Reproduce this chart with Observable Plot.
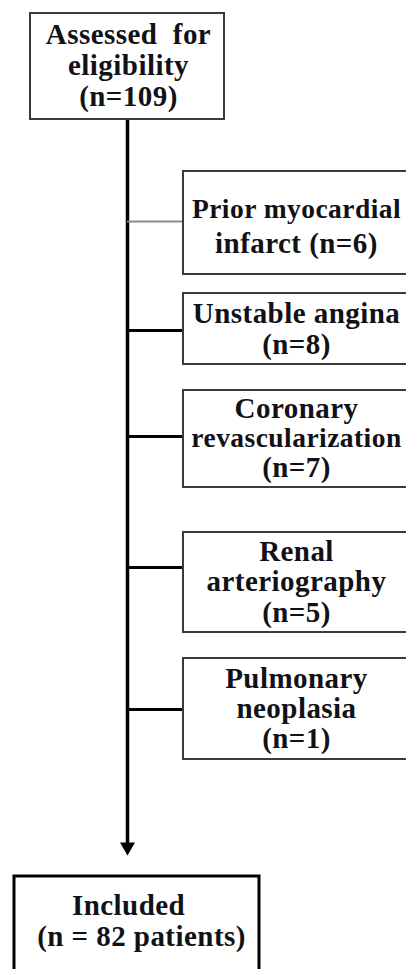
<!DOCTYPE html>
<html>
<head>
<meta charset="utf-8">
<script src="https://cdn.jsdelivr.net/npm/d3@7"></script>
<script src="https://cdn.jsdelivr.net/npm/@observablehq/plot@0.6"></script>
<style>
  html, body { margin: 0; padding: 0; background: #fff; overflow: hidden; }
</style>
</head>
<body>
<div id="chart"></div>
<script>
// ---- data ----
const assessedLabel = ["Assessed  for", "eligibility"];
const assessedCount = 109;
const exclusionReasons = [
  ["Prior myocardial", "infarct"],
  ["Unstable angina"],
  ["Coronary", "revascularization"],
  ["Renal", "arteriography"],
  ["Pulmonary", "neoplasia"]
];
const exclusionCounts = [6, 8, 7, 5, 1];
const countOnOwnLine = [false, true, true, true, true];
const includedLabel = "Included";
const includedCount = 82;

// ---- layout (pixels) ----
const W = 406, H = 969;
const spineX = 127;
const topBox = {x1: 30, x2: 224, y1: 13, y2: 119, cx: 128, base: 43, gap: 31};
const sideX1 = 183, sideX2 = 412, sideCx = 296;
const sideBoxes = [
  {y1: 171, y2: 274, link: 221, base: 217, gap: 35},
  {y1: 293, y2: 364, link: 330, base: 322, gap: 31},
  {y1: 390, y2: 487, link: 436, base: 417, gap: 29.5},
  {y1: 532, y2: 632, link: 567, base: 560, gap: 30.5},
  {y1: 658, y2: 759, link: 709, base: 687, gap: 30}
];
const bottomBox = {x1: 14, x2: 259, y1: 876, y2: 975, base: 914, gap: 31};
const arrowTip = 855;

// ---- build tables ----
const boxes = [
  {...topBox, stroke: "#3a3a3a", sw: 2},
  ...sideBoxes.map(b => ({x1: sideX1, x2: sideX2, y1: b.y1, y2: b.y2, stroke: "#3a3a3a", sw: 2})),
  {...bottomBox, stroke: "#000", sw: 3}
];

const lines = [];
[...assessedLabel, `(n=${assessedCount})`].forEach((t, i) =>
  lines.push({x: topBox.cx, y: topBox.base + i * topBox.gap, text: t, size: 29}));
exclusionReasons.forEach((reason, k) => {
  const b = sideBoxes[k];
  const ls = reason.slice();
  if (countOnOwnLine[k]) ls.push(`(n=${exclusionCounts[k]})`);
  else ls[ls.length - 1] += ` (n=${exclusionCounts[k]})`;
  ls.forEach((t, i) => lines.push({x: sideCx, y: b.base + i * b.gap, text: t, size: t.length > 15 ? 27.5 : 29}));
});
lines.push({x: 128, y: bottomBox.base, text: includedLabel, size: 29});
lines.push({x: 141, y: bottomBox.base + bottomBox.gap, text: `(n = ${includedCount} patients)`, size: 29});

const links = sideBoxes.map((b, k) => ({y: b.link, color: k === 0 ? "#8a8a8a" : "#000", w: k === 0 ? 2 : 3}));

// arrow head: equilateral triangle of width 15
const headW = 15;
const hy = headW / (2 * Math.sqrt(3));
const headR = Math.sqrt(hy * hy * Math.sqrt(3) * 3 / Math.PI);

const chart = Plot.plot({
  width: W,
  height: H,
  margin: 0,
  x: {domain: [0, W], range: [0, W], axis: null},
  y: {domain: [0, H], range: [0, H], axis: null},
  style: {fontFamily: "'Liberation Serif', 'Times New Roman', serif", background: "#fff", overflow: "hidden", letterSpacing: "0.45px"},
  marks: [
    Plot.ruleX([spineX], {y1: topBox.y2, y2: arrowTip - 8, stroke: "#000", strokeWidth: 3.5}),
    Plot.dot([{x: spineX, y: arrowTip - 2 * hy}], {x: "x", y: "y", symbol: "triangle", r: headR, rotate: 180, fill: "#000", stroke: "none"}),
    Plot.ruleY(links, {y: "y", x1: spineX, x2: sideX1, stroke: "color", strokeWidth: "w"}),
    Plot.rect(boxes, {x1: "x1", x2: "x2", y1: "y1", y2: "y2", fill: "#fff", stroke: "stroke", strokeWidth: "sw"}),
    Plot.text(lines, {x: "x", y: "y", text: "text", fontSize: "size", textAnchor: "middle", lineAnchor: "bottom",
      fontWeight: "bold", fill: "#111118"})
  ]
});
document.getElementById("chart").appendChild(chart);
</script>
</body>
</html>
